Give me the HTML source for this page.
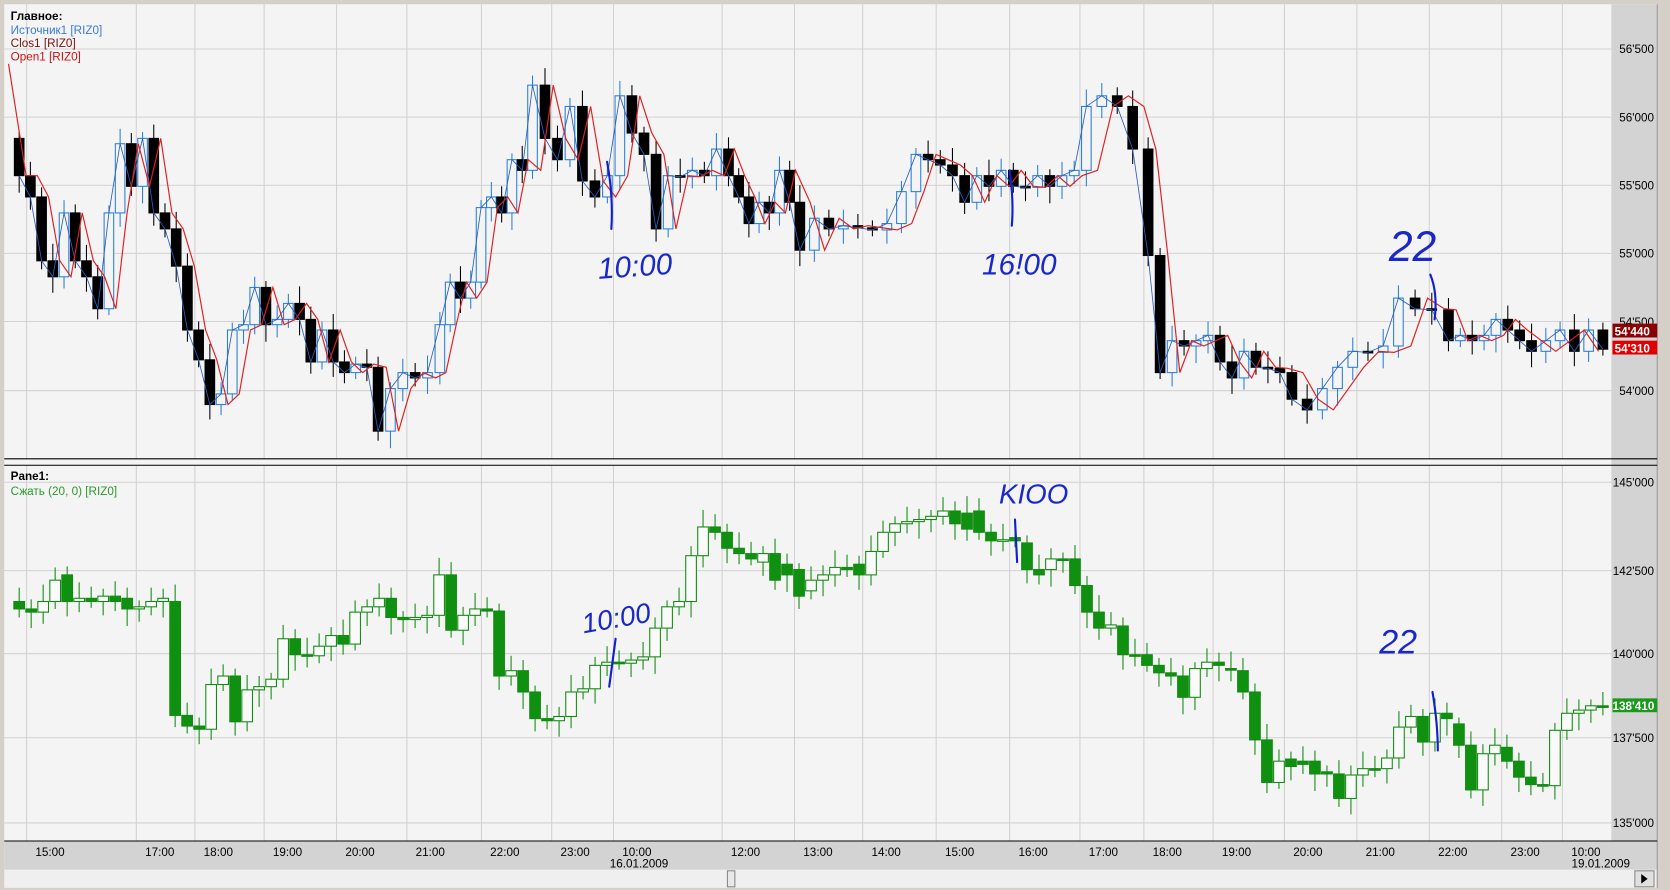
<!DOCTYPE html>
<html><head><meta charset="utf-8">
<style>
html,body{margin:0;padding:0;background:#d4d0c8;}
svg{display:block;}
text{font-family:"Liberation Sans",Tahoma,sans-serif;}
</style></head><body>
<svg id="s" width="1670" height="890" viewBox="0 0 1568 836" preserveAspectRatio="none" xmlns="http://www.w3.org/2000/svg">
<rect x="0" y="0" width="1568" height="836" fill="#d4d0c8"/>
<rect x="4" y="4" width="1552" height="813" fill="#f4f4f4"/>
<rect x="1513" y="4" width="43" height="786" fill="#d3d3d3"/>
<rect x="4" y="790" width="1552" height="27" fill="#d3d3d3"/>
<rect x="4" y="817" width="1552" height="17" fill="#efefef"/>
<rect x="1535" y="818" width="18" height="15" fill="#e0e0e0" stroke="#888"/>
<polygon points="1541,821 1547,825.5 1541,830" fill="#000"/>
<rect x="683" y="818" width="7" height="15" fill="#e8e8e8" stroke="#888"/>
<line x1="1556" y1="4" x2="1556" y2="834" stroke="#999"/>
<g id="grid" stroke="#d2d2d2" stroke-width="1"></g>
<line x1="4" y1="431" x2="1556" y2="431" stroke="#000"/>
<line x1="4" y1="437" x2="1556" y2="437" stroke="#000"/>
<line x1="4" y1="790" x2="1556" y2="790" stroke="#000"/>
<g id="tpane"></g>
<g id="bpane"></g>
<g font-size="11" fill="#000" id="labels"></g>
<text x="10" y="19" font-size="11" font-weight="bold">Главное:</text>
<text x="10" y="32" font-size="11" fill="#3a7bd5">Источник1 [RIZ0]</text>
<text x="10" y="44" font-size="11" fill="#7a1010">Clos1 [RIZ0]</text>
<text x="10" y="57" font-size="11" fill="#d01010">Open1 [RIZ0]</text>
<text x="10" y="451" font-size="11" font-weight="bold">Pane1:</text>
<text x="10" y="465" font-size="11" fill="#2a9a2a">Сжать (20, 0) [RIZ0]</text>
<rect x="1514" y="304" width="42" height="13" fill="#8b0000"/>
<text x="1516" y="315" font-size="11" fill="#fff" font-weight="bold">54'440</text>
<rect x="1514" y="320" width="42" height="13" fill="#e00000"/>
<text x="1516" y="331" font-size="11" fill="#fff" font-weight="bold">54'310</text>
<rect x="1514" y="656" width="42" height="13" fill="#1a9a1a"/>
<text x="1514" y="667" font-size="11" fill="#fff" font-weight="bold">138'410</text>
<g fill="none" stroke="#1020d0" stroke-width="2" stroke-linecap="round">
<path d="M570 152 Q576 185 574 215"/>
<path d="M948 160 Q952 190 950 212"/>
<path d="M1343 258 Q1350 275 1347 300"/>
<path d="M578 600 L572 645"/>
<path d="M953 488 L955 528"/>
<path d="M1345 650 Q1350 680 1350 705"/>
</g>
<g fill="#1a28c8" font-family="'DejaVu Sans',sans-serif" font-style="italic">
<text x="562" y="262" font-size="28" transform="rotate(-4 562 262)">10:00</text>
<text x="922" y="258" font-size="28">16!00</text>
<text x="1304" y="245" font-size="40">22</text>
<text x="548" y="595" font-size="26" transform="rotate(-10 548 595)">10:00</text>
<text x="938" y="473" font-size="26">KIOO</text>
<text x="1295" y="614" font-size="32">22</text>
</g>
</svg>
<script>
(function(){
var NS="http://www.w3.org/2000/svg";
function el(p,t,a){var e=document.createElementNS(NS,t);for(var k in a)e.setAttribute(k,a[k]);p.appendChild(e);return e;}
var grid=document.getElementById('grid');
var vx=[25,128,183,248,316,382,452,518,576,678,746,810,879,948,1014,1074,1139,1206,1274,1342,1410,1467];
vx.forEach(function(x){el(grid,'line',{x1:x,y1:4,x2:x,y2:431});el(grid,'line',{x1:x,y1:437,x2:x,y2:790});});
[46,110,174,238,302,367].forEach(function(y){el(grid,'line',{x1:4,y1:y,x2:1513,y2:y});});
[453,536,614,693,773].forEach(function(y){el(grid,'line',{x1:4,y1:y,x2:1513,y2:y});});
var L=document.getElementById('labels');
[["56'500",46],["56'000",110],["55'500",174],["55'000",238],["54'500",302],["54'000",367],["145'000",453],["142'500",536],["140'000",614],["137'500",693],["135'000",773]].forEach(function(a){var e=el(L,'text',{x:1553,y:a[1]+4,'text-anchor':'end'});e.textContent=a[0];});
var tl=["15:00","17:00","18:00","19:00","20:00","21:00","22:00","23:00","10:00","12:00","13:00","14:00","15:00","16:00","17:00","18:00","19:00","20:00","21:00","22:00","23:00","10:00"];
tl.forEach(function(t,i){var e=el(L,'text',{x:vx[i]+22,y:804,'text-anchor':'middle'});e.textContent=t;});
var e1=el(L,'text',{x:600,y:815,'text-anchor':'middle'});e1.textContent="16.01.2009";
var e2=el(L,'text',{x:1503,y:815,'text-anchor':'middle'});e2.textContent="19.01.2009";

var T=[[130,165],[165,185],[185,245],[245,260],[260,200],[200,245],[245,260],[260,290],[290,200],[200,135],[135,175],[175,130],[130,200],[200,215],[215,250],[250,310],[310,338],[338,380],[380,370],[370,310],[310,305],[305,270],[270,305],[305,300],[300,285],[285,300],[300,340],[340,310],[310,340],[340,350],[350,342],[342,345],[345,405],[405,365],[365,350],[350,355],[355,350],[350,305],[305,265],[265,280],[280,265],[265,195],[195,185],[185,200],[200,150],[150,160],[160,80],[80,130],[130,150],[150,100],[100,170],[170,185],[185,165],[165,90],[90,125],[125,145],[145,215],[215,165],[165,166],[166,160],[160,165],[165,140],[140,165],[165,185],[185,210],[210,190],[190,200],[200,160],[160,190],[190,235],[235,205],[205,215],[215,212],[212,214],[214,216],[216,210],[210,180],[180,145],[145,150],[150,155],[155,165],[165,190],[190,165],[165,175],[175,160],[160,175],[175,176],[176,165],[165,175],[175,165],[165,160],[160,100],[100,90],[90,100],[100,140],[140,240],[240,350],[350,320],[320,325],[325,320],[320,315],[315,340],[340,355],[355,330],[330,345],[345,346],[346,350],[350,375],[375,385],[385,365],[365,345],[345,330],[330,331],[331,325],[325,280],[280,290],[290,291],[291,320],[320,315],[315,320],[320,315],[315,300],[300,310],[310,320],[320,330],[330,320],[320,310],[310,330],[330,310],[310,328]];
var anch={0:18,32:355,37:413,46:500,53:582,62:684,69:751,77:860,91:1020,95:1078,107:1213,114:1313,117:1360,124:1438,129:1505};
function xs(n,an){var k=Object.keys(an).map(Number).sort(function(a,b){return a-b;});var r=[];for(var i=0;i<n;i++){var a=k[0],b=k[k.length-1];for(var j=0;j<k.length-1;j++){if(i>=k[j]&&i<=k[j+1]){a=k[j];b=k[j+1];break;}}if(i>k[k.length-1]){a=k[k.length-2];b=k[k.length-1];}r.push(a==b?an[a]:an[a]+(an[b]-an[a])*(i-a)/(b-a));}return r;}
var tx=xs(T.length,anch);
var tp=document.getElementById('tpane');
var rs=[];for(var i=0;i<T.length;i++){var v=T[Math.max(0,i-2)][1];rs.push((tx[i]-4)+","+v);}
rs[0]=(tx[0]-10)+",60";
function wl(i){return 6+((i*7)%11);}
T.forEach(function(d,i){var x=tx[i],o=d[0],c=d[1],hi=Math.min(o,c)-wl(i),lo=Math.max(o,c)+wl(i+3);var up=c<o;var col=up?"#2a7fd8":"#000";
el(tp,'line',{x1:x,y1:hi,x2:x,y2:lo,stroke:col});
var h=Math.max(1.5,Math.abs(c-o));
el(tp,'rect',{x:x-4.5,y:Math.min(o,c),width:9,height:h,fill:up?"#f4f4f4":"#000",stroke:col});});
el(tp,'polyline',{points:T.map(function(d,i){return tx[i]+","+d[1];}).join(" "),fill:"none",stroke:"#2a5fb8","stroke-width":0.8});
el(tp,'polyline',{points:rs.join(" "),fill:"none",stroke:"#e02020","stroke-width":1.1});

var B=[[565,572],[572,575],[575,565],[565,545],[540,565],[565,562],[562,565],[565,560],[560,565],[562,572],[572,570],[570,565],[565,562],[565,672],[672,682],[682,685],[685,643],[643,635],[635,678],[678,648],[648,645],[645,638],[638,600],[600,615],[615,616],[616,607],[607,597],[597,605],[605,575],[575,570],[570,562],[562,580],[580,582],[582,580],[580,578],[578,540],[540,592],[592,578],[578,572],[572,574],[574,635],[635,630],[630,650],[650,675],[675,677],[677,673],[673,650],[650,647],[647,625],[625,622],[622,623],[623,620],[620,617],[617,590],[590,570],[570,565],[565,522],[522,495],[495,500],[500,515],[515,520],[520,525],[528,520],[520,545],[530,540],[535,560],[555,545],[545,540],[540,533],[533,535],[530,540],[540,518],[518,500],[500,492],[492,490],[490,488],[488,485],[485,480],[480,492],[482,497],[480,500],[500,508],[508,507],[505,508],[510,535],[535,540],[535,525],[525,526],[525,550],[550,575],[575,590],[590,587],[588,615],[615,616],[615,625],[625,632],[632,635],[635,655],[655,628],[628,622],[622,625],[628,629],[630,650],[650,695],[695,735],[735,715],[713,720],[715,718],[715,727],[725,727],[727,750],[750,728],[728,722],[722,723],[722,712],[712,683],[683,673],[673,697],[697,670],[670,675],[680,700],[700,742],[742,708],[708,700],[702,715],[715,730],[730,737],[737,738],[738,686],[686,670],[670,667],[667,663],[663,664]];
var bp=document.getElementById('bpane');
B.forEach(function(d,i){var x=18+i*(1487/(B.length-1));var o=d[0],c=d[1];var up=c<o;var hi=Math.min(o,c)-wl(i+1),lo=Math.max(o,c)+wl(i+5);
el(bp,'line',{x1:x,y1:hi,x2:x,y2:lo,stroke:"#108a10"});
el(bp,'rect',{x:x-5,y:Math.min(o,c),width:10,height:Math.max(1.5,Math.abs(c-o)),fill:up?"#fafafa":"#109010",stroke:"#108a10"});});
})();
</script>
</body></html>
